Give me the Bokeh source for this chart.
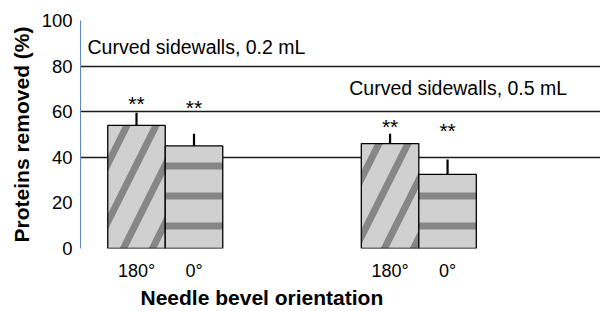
from bokeh.plotting import figure
from bokeh.models import Range1d, FixedTicker, Label, ColumnDataSource, Title
from bokeh.embed import file_html
from bokeh.resources import INLINE

# ---- data ----
groups = ["Curved sidewalls, 0.2 mL", "Curved sidewalls, 0.5 mL"]
orientations = ["180°", "0°", "180°", "0°"]
group_index = [0, 0, 1, 1]
orient_index = [0, 1, 0, 1]
removed = [54.0, 45.0, 46.0, 32.5]
errors = [5.5, 5.3, 4.3, 6.5]
stars = ["**", "**", "**", "**"]
star_height = [63.5, 62.0, 53.5, 51.8]
y_ticks = [0, 20, 40, 60, 80, 100]
grid_ticks = [0, 40, 60, 80, 100]

FONT = "Liberation Sans"
GROUP_STEP = 4.41
xs = [g * GROUP_STEP + k for g, k in zip(group_index, orient_index)]

p = figure(width=600, height=308, output_backend="svg", toolbar_location=None,
           x_range=Range1d(-0.974, 8.07), y_range=Range1d(0, 100),
           min_border_left=80, min_border_right=0, min_border_top=20,
           min_border_bottom=60)
p.outline_line_color = None
p.background_fill_color = "white"
p.border_fill_color = "white"

# grid
p.xgrid.grid_line_color = None
p.ygrid.ticker = FixedTicker(ticks=grid_ticks)
p.ygrid.grid_line_color = "#1a1a1a"
p.ygrid.grid_line_width = 1.6

# y axis
p.yaxis.ticker = FixedTicker(ticks=y_ticks)
p.yaxis.axis_line_color = "#5a8ac6"
p.yaxis.axis_line_width = 1
p.yaxis.major_tick_line_color = None
p.yaxis.minor_tick_line_color = None
p.yaxis.major_label_text_font = FONT
p.yaxis.major_label_text_font_size = "18.5px"
p.yaxis.major_label_text_color = "black"
p.yaxis.major_label_standoff = 2
p.yaxis.axis_label = "Proteins removed (%)"
p.yaxis.axis_label_text_font = FONT
p.yaxis.axis_label_text_font_size = "21px"
p.yaxis.axis_label_text_font_style = "bold"
p.yaxis.axis_label_text_color = "black"
p.yaxis.axis_label_standoff = 6

# x axis
p.xaxis.ticker = FixedTicker(ticks=xs)
p.xaxis.major_label_overrides = {x: lab for x, lab in zip(xs, orientations)}
p.xaxis.axis_line_color = None
p.xaxis.major_tick_line_color = None
p.xaxis.minor_tick_line_color = None
p.xaxis.major_label_text_font = FONT
p.xaxis.major_label_text_font_size = "18px"
p.xaxis.major_label_text_color = "black"
p.xaxis.major_label_standoff = 6

src = ColumnDataSource(dict(
    x=xs, top=removed,
    err_top=[v + e for v, e in zip(removed, errors)],
    star=stars, star_y=star_height,
    hatch=["/" if k == 0 else "-" for k in orient_index],
    hscale=[58 if k == 0 else 30 for k in orient_index],
))

p.vbar(x="x", top="top", bottom=0, width=1.0, source=src,
       fill_color="#d0d0d0", line_color="black", line_width=1.3,
       hatch_pattern="hatch", hatch_scale="hscale", hatch_weight=7,
       hatch_color="#3c3c3c", hatch_alpha=0.5)

p.segment(x0="x", y0="top", x1="x", y1="err_top", source=src,
          line_color="black", line_width=2.2)

p.text(x="x", y="star_y", text="star", source=src, text_align="center",
       text_baseline="middle", text_font={"value": FONT},
       text_font_size={"value": "21px"}, text_color="black")

p.add_layout(Label(x=-0.852, y=88.2, text=groups[0], text_font=FONT,
                   text_font_size="19.5px", text_baseline="middle",
                   text_color="black"))
p.add_layout(Label(x=3.70, y=70.6, text=groups[1], text_font=FONT,
                   text_font_size="19.5px", text_baseline="middle",
                   text_color="black"))

p.add_layout(Title(text="Needle bevel orientation", align="left", offset=60,
                   text_font=FONT, text_font_size="21px",
                   text_font_style="bold", text_color="black", standoff=0),
             "below")

open("out.html", "w").write(file_html(p, INLINE))
